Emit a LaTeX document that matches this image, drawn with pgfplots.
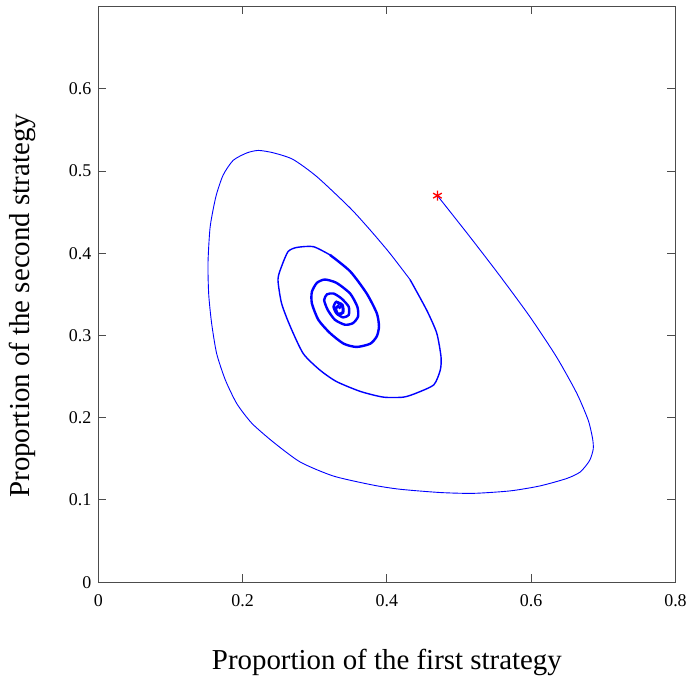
\documentclass[border=0pt]{standalone}
\usepackage{fontspec}
\setmainfont{Liberation Serif}
\usepackage{pgfplots}
\pgfplotsset{compat=1.18}
\begin{document}
\begin{tikzpicture}
\begin{axis}[
  scale only axis,
  width=577bp, height=575.5bp,
  xmin=0, xmax=0.8, ymin=0, ymax=0.7,
  xtick={0,0.2,0.4,0.6,0.8},
  xticklabels={0,0.2,0.4,0.6,0.8},
  ytick={0,0.1,0.2,0.3,0.4,0.5,0.6},
  yticklabels={0,0.1,0.2,0.3,0.4,0.5,0.6},
  tick align=inside,
  major tick length=8bp,
  axis line style={black!70, line width=0.9bp},
  every tick/.style={black!70, line width=0.9bp},
  tick label style={font=\fontsize{18}{21}\selectfont},
  /pgf/number format/assume math mode=true,
  xticklabel style={yshift=-9bp},
  yticklabel style={xshift=-3.5bp},
  xlabel={Proportion of the first strategy},
  ylabel={Proportion of the second strategy},
  label style={font=\fontsize{29}{34}\selectfont},
  xlabel style={at={(axis description cs:0.5,-0.1512)}, anchor=base},
  ylabel style={at={(axis description cs:-0.1184,0.48)}, anchor=base, rotate=0},
]
\coordinate (sw) at (rel axis cs:0,0);
\coordinate (ne) at (rel axis cs:1,1);
\addplot[blue, line width=0.9bp, smooth, tension=0.4] coordinates {
(0.470,0.470) (0.515,0.420) (0.557,0.372) (0.598,0.323) (0.635,0.274)
(0.663,0.230) (0.679,0.197) (0.685,0.175) (0.686,0.162) (0.681,0.148)
(0.668,0.134) (0.649,0.126) (0.612,0.117) (0.571,0.111) (0.520,0.108)
(0.474,0.109) (0.418,0.113) (0.381,0.118) (0.326,0.129) (0.280,0.146)
(0.243,0.170) (0.213,0.193) (0.192,0.217) (0.176,0.246) (0.164,0.278)
(0.157,0.315) (0.153,0.350) (0.152,0.388) (0.155,0.432) (0.163,0.469)
(0.173,0.495) (0.187,0.513) (0.206,0.522) (0.222,0.525) (0.243,0.522)
(0.270,0.514) (0.303,0.493) (0.349,0.455) (0.377,0.428) (0.404,0.400)
(0.432,0.368)
};
\addplot[blue, line width=1.4bp, smooth, tension=0.4] coordinates {
(0.432,0.368) (0.455,0.331) (0.469,0.303) (0.475,0.274) (0.474,0.258)
(0.465,0.240) (0.441,0.230) (0.423,0.225) (0.395,0.225) (0.363,0.232)
(0.330,0.244) (0.307,0.258) (0.284,0.278) (0.266,0.311) (0.254,0.339)
(0.249,0.368) (0.254,0.384) (0.263,0.402) (0.275,0.407) (0.298,0.408)
(0.321,0.398)
};
\addplot[blue, line width=2.4bp, smooth, tension=0.4] coordinates {
(0.321,0.398) (0.349,0.378) (0.372,0.351) (0.386,0.327) (0.389,0.311)
(0.386,0.299) (0.377,0.290) (0.358,0.286) (0.340,0.290) (0.321,0.303)
(0.305,0.319) (0.296,0.339) (0.296,0.353) (0.303,0.364) (0.314,0.368)
(0.330,0.364) (0.349,0.351) (0.359,0.335) (0.360,0.323) (0.353,0.315)
(0.342,0.313) (0.328,0.319) (0.318,0.331) (0.313,0.343) (0.317,0.350)
(0.326,0.351) (0.337,0.345) (0.347,0.335) (0.347,0.325) (0.339,0.322)
(0.330,0.327) (0.326,0.335) (0.330,0.341) (0.337,0.336) (0.333,0.333)
};
\addplot[blue, line width=3bp, smooth] coordinates {
(0.331,0.340) (0.338,0.337) (0.339,0.328) (0.332,0.326) (0.329,0.333) (0.334,0.336)
};
\addplot[red, only marks, mark=asterisk, mark size=5bp, mark options={line width=1.3bp}] coordinates {(0.470,0.470)};
\end{axis}
\pgfresetboundingbox
\path ([shift={(-98.3bp,-98bp)}]sw) rectangle ([shift={(11.5bp,6.5bp)}]ne);
\end{tikzpicture}
\end{document}
